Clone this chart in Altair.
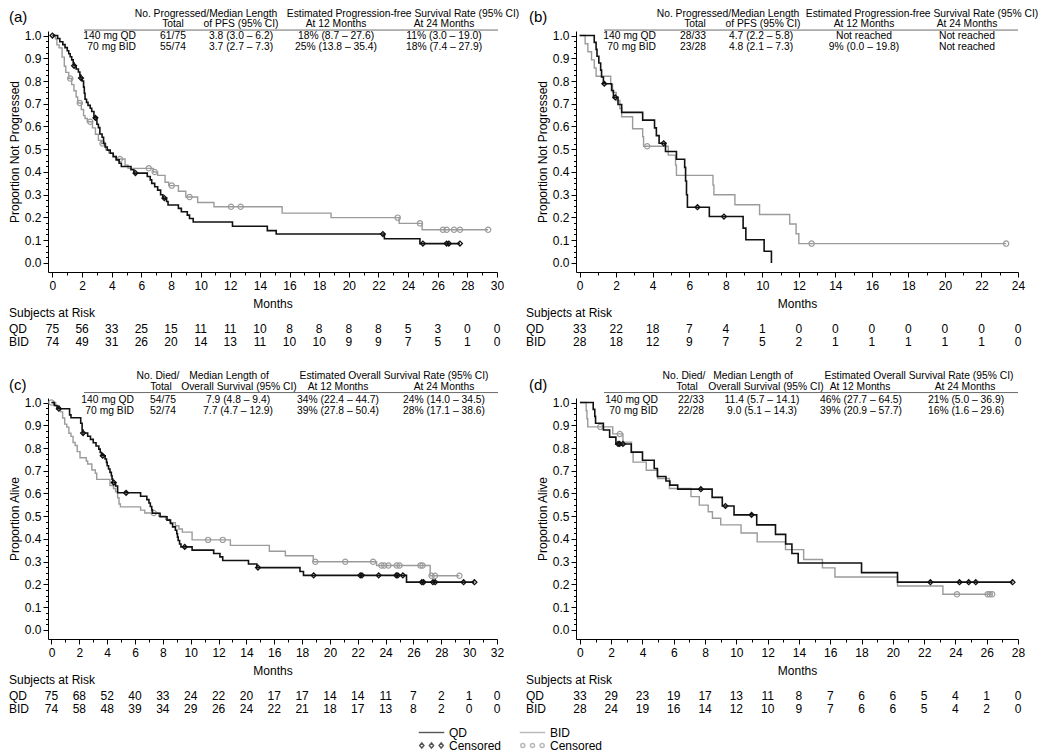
import altair as alt
import pandas as pd

FONT = "Liberation Sans"
QD_COLOR = "#111111"
BID_COLOR = "#9b9b9b"

# ---------------- data: Kaplan-Meier steps (time in months, proportion) ----------------
A_QD_T = [0, 0.35, 0.5, 0.7, 0.85, 1.0, 1.1, 1.2, 1.3, 1.4, 1.45, 1.6, 1.75, 1.85, 1.9, 2.0, 2.1, 2.15, 2.2, 2.3,
          2.4, 2.55, 2.65, 2.8, 3.0, 3.1, 3.2, 3.35, 3.45, 3.55, 3.7, 3.9, 4.1, 4.3, 4.5, 4.65, 5.3, 5.5, 6.4, 6.6,
          6.7, 6.9, 7.1, 7.3, 7.45, 7.7, 7.8, 8.5, 8.7, 9.1, 9.25, 9.5, 12.15, 14.5, 15.1, 22.4, 24.8]
A_QD_S = [1.0, 0.987, 0.973, 0.96, 0.947, 0.933, 0.92, 0.907, 0.893, 0.88, 0.867, 0.853, 0.84, 0.826, 0.813, 0.80,
          0.773, 0.746, 0.72, 0.706, 0.693, 0.68, 0.666, 0.638, 0.61, 0.595, 0.567, 0.553, 0.525, 0.51, 0.496, 0.482,
          0.467, 0.453, 0.438, 0.424, 0.41, 0.395, 0.38, 0.365, 0.35, 0.335, 0.32, 0.30, 0.285, 0.27, 0.255, 0.24,
          0.225, 0.21, 0.195, 0.18, 0.161, 0.142, 0.127, 0.106, 0.085]
A_QD_C = [0.0, 1.46, 1.93, 2.9, 5.6, 7.55, 22.3, 25.0, 26.6, 26.75, 27.5]
A_BID_T = [0, 0.2, 0.3, 0.45, 0.65, 0.8, 0.9, 1.1, 1.3, 1.45, 1.6, 1.7, 1.95, 2.1, 2.2, 2.35, 2.7, 2.9, 3.1, 3.3,
           3.6, 3.8, 4.1, 4.3, 4.9, 5.1, 6.8, 7.1, 7.6, 7.85, 8.5, 9.0, 9.8, 10.9, 15.5, 18.8, 23.4, 24.95]
A_BID_S = [1.0, 0.986, 0.959, 0.946, 0.905, 0.865, 0.838, 0.811, 0.784, 0.757, 0.73, 0.703, 0.675, 0.648, 0.635,
           0.621, 0.594, 0.566, 0.539, 0.525, 0.497, 0.484, 0.47, 0.457, 0.43, 0.416, 0.40, 0.385, 0.355, 0.34,
           0.315, 0.29, 0.266, 0.247, 0.219, 0.199, 0.174, 0.146]
A_BID_C = [1.2, 1.85, 2.55, 3.38, 4.55, 6.5, 6.9, 8.05, 9.25, 12.05, 12.7, 23.3, 24.8, 26.35, 26.6, 27.1, 27.5, 29.4]

B_QD_T = [0, 0.8, 0.9, 0.95, 1.05, 1.15, 1.2, 1.3, 1.75, 1.85, 2.1, 2.3, 3.45, 4.1, 4.2, 4.35, 4.7, 5.3, 5.75,
          5.8, 5.85, 5.9, 7.1, 8.95, 9.1, 10.1, 10.5]
B_QD_S = [1.0, 0.97, 0.939, 0.909, 0.879, 0.848, 0.818, 0.788, 0.758, 0.728, 0.697, 0.662, 0.628, 0.594, 0.56,
          0.526, 0.49, 0.456, 0.42, 0.36, 0.30, 0.245, 0.204, 0.153, 0.102, 0.051, 0.0]
B_QD_C = [1.35, 1.95, 4.6, 6.45, 7.9]
B_BID_T = [0, 0.3, 0.45, 0.65, 0.8, 0.9, 1.7, 1.8, 2.0, 2.2, 2.3, 2.9, 3.45, 3.5, 4.85, 5.25, 5.3, 7.3, 7.35,
           8.5, 9.85, 11.5, 11.85, 12.0]
B_BID_S = [1.0, 0.964, 0.929, 0.893, 0.857, 0.821, 0.786, 0.75, 0.714, 0.679, 0.643, 0.59, 0.555, 0.513, 0.474,
           0.43, 0.385, 0.342, 0.30, 0.256, 0.213, 0.171, 0.128, 0.085]
B_BID_C = [3.7, 12.7, 23.35]

C_QD_T = [0, 0.2, 0.4, 1.3, 1.4, 2.1, 2.2, 2.25, 2.6, 2.8, 3.0, 3.2, 3.4, 3.5, 3.6, 3.85, 3.95, 4.0, 4.1, 4.2,
          4.3, 4.35, 4.4, 4.6, 4.75, 6.4, 6.85, 7.0, 7.1, 7.2, 7.25, 7.8, 8.3, 8.55, 8.7, 8.9, 9.0, 9.05, 9.1, 9.2,
          9.3, 10.1, 11.65, 12.1, 12.3, 14.15, 14.75, 17.85, 18.1, 25.5]
C_QD_S = [1.0, 0.987, 0.973, 0.946, 0.933, 0.909, 0.88, 0.866, 0.852, 0.838, 0.823, 0.809, 0.795, 0.78, 0.766,
          0.752, 0.737, 0.722, 0.708, 0.693, 0.678, 0.663, 0.648, 0.633, 0.603, 0.588, 0.573, 0.558, 0.543, 0.528,
          0.513, 0.498, 0.483, 0.468, 0.453, 0.438, 0.423, 0.408, 0.393, 0.378, 0.365, 0.351, 0.336, 0.321, 0.305,
          0.29, 0.274, 0.257, 0.24, 0.21]
C_QD_C = [0.53, 2.27, 3.68, 4.47, 5.36, 9.57, 14.83, 18.83, 22.18, 22.3, 23.5, 24.76, 24.88, 25.24, 26.6, 26.72,
          27.4, 27.56, 29.6, 30.38]
C_BID_T = [0, 0.3, 0.55, 0.65, 0.8, 0.95, 1.1, 1.25, 1.4, 1.55, 1.7, 1.85, 2.05, 2.5, 2.6, 2.9, 3.15, 3.25, 4.2,
           4.45, 4.6, 4.75, 4.85, 4.95, 6.4, 6.7, 7.7, 8.2, 8.5, 8.9, 9.15, 9.4, 10.1, 12.85, 15.65, 16.8, 18.8,
           23.35, 27.2]
C_BID_S = [1.0, 0.986, 0.973, 0.959, 0.932, 0.905, 0.892, 0.865, 0.851, 0.824, 0.811, 0.784, 0.757, 0.743, 0.73,
           0.703, 0.689, 0.662, 0.635, 0.622, 0.608, 0.581, 0.554, 0.541, 0.527, 0.514, 0.5, 0.486, 0.472, 0.458,
           0.444, 0.43, 0.396, 0.372, 0.346, 0.326, 0.30, 0.283, 0.238]
C_BID_C = [0.0, 7.35, 11.25, 12.3, 18.95, 21.1, 23.1, 23.7, 23.9, 24.2, 24.8, 25.0, 26.5, 26.65, 27.3, 27.55, 29.3]

D_QD_T = [0, 0.85, 0.95, 1.0, 1.5, 1.9, 2.3, 3.28, 4.0, 4.75, 4.95, 5.5, 5.75, 6.25, 8.45, 9.1, 9.85, 11.3, 12.5,
          13.15, 13.55, 13.95, 18.0, 20.3]
D_QD_S = [1.0, 0.97, 0.939, 0.909, 0.879, 0.848, 0.818, 0.782, 0.746, 0.71, 0.675, 0.655, 0.637, 0.619, 0.583,
          0.545, 0.506, 0.462, 0.42, 0.378, 0.336, 0.294, 0.252, 0.21]
D_QD_C = [2.44, 2.54, 2.75, 7.73, 9.3, 10.97, 22.4, 24.26, 24.85, 25.3, 27.65]
D_BID_T = [0, 0.4, 0.45, 0.5, 2.1, 2.75, 3.3, 3.4, 4.24, 4.98, 5.72, 7.1, 7.63, 8.2, 8.47, 9.0, 10.3, 11.33,
           13.14, 14.3, 15.5, 16.3, 20.3, 23.2]
D_BID_S = [1.0, 0.964, 0.929, 0.893, 0.862, 0.826, 0.78, 0.738, 0.702, 0.666, 0.622, 0.586, 0.549, 0.52, 0.491,
           0.462, 0.426, 0.387, 0.353, 0.31, 0.273, 0.233, 0.193, 0.157]
D_BID_C = [1.3, 2.55, 24.1, 26.06, 26.2, 26.35]

# ---------------- subjects at risk ----------------
A_RISK_QD = [75, 56, 33, 25, 15, 11, 11, 10, 8, 8, 8, 8, 5, 3, 0, 0]
A_RISK_BID = [74, 49, 31, 26, 20, 14, 13, 11, 10, 10, 9, 9, 7, 5, 1, 0]
B_RISK_QD = [33, 22, 18, 7, 4, 1, 0, 0, 0, 0, 0, 0, 0]
B_RISK_BID = [28, 18, 12, 9, 7, 5, 2, 1, 1, 1, 1, 1, 0]
C_RISK_QD = [75, 68, 52, 40, 33, 24, 22, 20, 17, 17, 14, 14, 11, 7, 2, 1, 0]
C_RISK_BID = [74, 58, 48, 39, 34, 29, 26, 24, 22, 21, 18, 17, 13, 8, 2, 0, 0]
D_RISK_QD = [33, 29, 23, 19, 17, 13, 11, 8, 7, 6, 6, 5, 4, 1, 0]
D_RISK_BID = [28, 24, 19, 16, 14, 12, 10, 9, 7, 6, 6, 5, 4, 2, 0]
RISK_LABELS = ["Subjects at Risk", "QD", "BID"]

# ---------------- header tables ----------------
ARM_LABELS = ["140 mg QD", "70 mg BID"]
HEAD_PFS_1 = ["No. Progressed/Median Length", "Estimated Progression-free Survival Rate (95% CI)"]
HEAD_PFS_2 = ["Total", "of PFS (95% CI)", "At 12 Months", "At 24 Months"]
HEAD_OS_1 = ["No. Died/", "Median Length of", "Estimated Overall Survival Rate (95% CI)"]
HEAD_OS_2 = ["Total", "Overall Survival (95% CI)", "At 12 Months", "At 24 Months"]
A_ROWS = [["61/75", "3.8 (3.0 – 6.2)", "18% (8.7 – 27.6)", "11% (3.0 – 19.0)"],
          ["55/74", "3.7 (2.7 – 7.3)", "25% (13.8 – 35.4)", "18% (7.4 – 27.9)"]]
B_ROWS = [["28/33", "4.7 (2.2 – 5.8)", "Not reached", "Not reached"],
          ["23/28", "4.8 (2.1 – 7.3)", "9% (0.0 – 19.8)", "Not reached"]]
C_ROWS = [["54/75", "7.9 (4.8 – 9.4)", "34% (22.4 – 44.7)", "24% (14.0 – 34.5)"],
          ["52/74", "7.7 (4.7 – 12.9)", "39% (27.8 – 50.4)", "28% (17.1 – 38.6)"]]
D_ROWS = [["22/33", "11.4 (5.7 – 14.1)", "46% (27.7 – 64.5)", "21% (5.0 – 36.9)"],
          ["22/28", "9.0 (5.1 – 14.3)", "39% (20.9 – 57.7)", "16% (1.6 – 29.6)"]]

# legend (column-major fill: left column QD entries, right column BID entries)
LEG_KEYS = ["QD", "QD censored", "BID", "BID censored"]
LEG_COLORS = [QD_COLOR, QD_COLOR, BID_COLOR, BID_COLOR]


def _tri(kind):
    parts = []
    for cx in (-0.76, 0.0, 0.76):
        if kind == "diamond":
            parts.append(f"M{cx-0.17:.2f},0L{cx:.2f},-0.2L{cx+0.17:.2f},0L{cx:.2f},0.2Z")
        else:
            r = 0.16
            parts.append(f"M{cx-r:.2f},0A{r},{r} 0 1,0 {cx+r:.2f},0A{r},{r} 0 1,0 {cx-r:.2f},0Z")
    return "".join(parts)


LEG_SHAPES = ["stroke", _tri("diamond"), "stroke", _tri("circle")]

# ---------------- layout ----------------
H_PLOT = 241
YDOM = (-0.04, 1.02)
YVALS = [round(i * 0.025, 3) for i in range(41)]
YMAJ = "abs(datum.value*10 - round(datum.value*10)) < 0.001"
HEAD_FS = 10.3

GEOM = {
    "a": dict(W=449, xdom=(-0.3, 30), letter="(a)", letter_dx=-39, risk_dx=-39, label_right=88,
              cols=[125, 193, 288, 396], l2=[125, 193, 288, 396], l1=[158, 355], sep=(36, 450),
              hy=[-22, -11.5, -5.5, 0.5, 11], letter_rel=-19, ytitle="Proportion Not Progressed"),
    "b": dict(W=442, xdom=(-0.2, 24), letter="(b)", letter_dx=-47, risk_dx=-50, label_right=80,
              cols=[117, 185, 288, 391], l2=[119, 187, 288, 391], l1=[152, 346], sep=(28, 442),
              hy=[-22, -11.5, -5.5, 0.5, 11], letter_rel=-19, ytitle="Proportion Not Progressed"),
    "c": dict(W=449, xdom=(-0.25, 32), letter="(c)", letter_dx=-39, risk_dx=-39, label_right=86,
              cols=[115, 190, 290, 396], l2=[113, 191, 290, 396], l1=[110, 181, 346], sep=(36, 450),
              hy=[-26.5, -16, -10, -2.5, 8.5], letter_rel=-18, ytitle="Proportion Alive"),
    "d": dict(W=442, xdom=(-0.25, 28), letter="(d)", letter_dx=-47, risk_dx=-50, label_right=82,
              cols=[115, 186, 285, 390], l2=[111, 190, 284, 389], l1=[108, 177, 343], sep=(28, 442),
              hy=[-26.5, -16, -10, -2.5, 8.5], letter_rel=-18, ytitle="Proportion Alive"),
}


def km_line(T, S, C):
    t, s = list(T), list(S)
    if C and max(C) > t[-1]:
        t.append(max(C))
        s.append(s[-1])
    return pd.DataFrame({"t": t, "s": s})


def km_censor(T, S, C):
    vals = []
    for c in C:
        k = 0
        for i, tt in enumerate(T):
            if tt <= c:
                k = i
        vals.append(S[k])
    return pd.DataFrame({"t": list(C), "s": vals})


def make_panel(g, qd, bid, risk_qd, risk_bid, head1, head2, rows, legend=False):
    W = g["W"]
    xmin, xmax = g["xdom"]
    ymin, ymax = YDOM
    mx = (xmax - xmin) / W
    my = (ymax - ymin) / H_PLOT

    def X(dx):
        return xmin + dx * mx

    def Yone(rel):
        return 1.0 - rel * my

    def Ybot(off):
        return ymin - off * my

    xt = int(round(xmax))
    xaxis = alt.Axis(values=list(range(0, xt + 1)), format="d",
                     labelExpr="datum.value % 2 == 0 ? datum.label : ''",
                     tickSize={"condition": {"test": "datum.value % 2 == 0", "value": 5}, "value": 3},
                     title="Months", titlePadding=7, labelPadding=3, labelFlush=False, labelOverlap=False,
                     grid=False, domainColor="black", tickColor="black", labelColor="black",
                     titleColor="black", labelFontSize=12, titleFontSize=12, titleFontWeight="normal",
                     labelFont=FONT, titleFont=FONT)
    yaxis = alt.Axis(values=YVALS,
                     labelExpr=YMAJ + " ? format(datum.value, '.1f') : ''",
                     tickSize={"condition": {"test": YMAJ, "value": 5}, "value": 2.5},
                     title=g["ytitle"], titlePadding=3, labelPadding=2, labelFlush=False, labelOverlap=False,
                     grid=False, domainColor="black", tickColor="black", labelColor="black",
                     titleColor="black", labelFontSize=12, titleFontSize=12, titleFontWeight="normal",
                     labelFont=FONT, titleFont=FONT)
    enc = dict(x=alt.X("t:Q", scale=alt.Scale(domain=[xmin, xmax], nice=False, zero=False), axis=xaxis),
               y=alt.Y("s:Q", scale=alt.Scale(domain=[ymin, ymax], nice=False, zero=False), axis=yaxis))

    def text_layer(df, align, size):
        return alt.Chart(df).mark_text(align=align, baseline="middle", font=FONT, fontSize=size,
                                       color="black").encode(text="txt:N", **enc)

    layers = []
    # curves
    layers.append(alt.Chart(km_line(*bid)).mark_line(interpolate="step-after", color=BID_COLOR,
                                                     strokeWidth=1.4).encode(**enc))
    layers.append(alt.Chart(km_censor(*bid)).mark_point(shape="circle", filled=False, size=28,
                                                        color=BID_COLOR, strokeWidth=1.2,
                                                        opacity=1).encode(**enc))
    layers.append(alt.Chart(km_line(*qd)).mark_line(interpolate="step-after", color=QD_COLOR,
                                                    strokeWidth=1.6).encode(**enc))
    layers.append(alt.Chart(km_censor(*qd)).mark_point(shape="diamond", filled=False, size=24,
                                                       color=QD_COLOR, strokeWidth=1.3,
                                                       opacity=1).encode(**enc))

    hy = g["hy"]
    # header line 1 / line 2
    layers.append(text_layer(pd.DataFrame({"txt": head1, "t": [X(d) for d in g["l1"]],
                                           "s": [Yone(hy[0])] * len(head1)}), "center", HEAD_FS))
    layers.append(text_layer(pd.DataFrame({"txt": head2, "t": [X(d) for d in g["l2"]],
                                           "s": [Yone(hy[1])] * len(head2)}), "center", HEAD_FS))
    # separator
    layers.append(alt.Chart(pd.DataFrame({"t": [X(g["sep"][0])], "t2": [X(g["sep"][1])],
                                          "s": [Yone(hy[2])]})).mark_rule(color="#444444", strokeWidth=0.8)
                  .encode(x2="t2:Q", **enc))
    # arm labels and values
    layers.append(text_layer(pd.DataFrame({"txt": ARM_LABELS, "t": [X(g["label_right"])] * 2,
                                           "s": [Yone(hy[3]), Yone(hy[4])]}), "right", HEAD_FS))
    vals = []
    for i, row in enumerate(rows):
        for j, v in enumerate(row):
            vals.append({"txt": v, "t": X(g["cols"][j]), "s": Yone(hy[3 + i])})
    layers.append(text_layer(pd.DataFrame(vals), "center", HEAD_FS))

    # panel letter
    layers.append(text_layer(pd.DataFrame({"txt": [g["letter"]], "t": [X(g["letter_dx"])],
                                           "s": [Yone(g["letter_rel"])]}), "left", 15))

    # risk table
    ticks = list(range(0, xt + 1, 2))
    rk = []
    for tk, v in zip(ticks, risk_qd):
        rk.append({"txt": str(v), "t": tk, "s": Ybot(57)})
    for tk, v in zip(ticks, risk_bid):
        rk.append({"txt": str(v), "t": tk, "s": Ybot(70)})
    layers.append(text_layer(pd.DataFrame(rk), "center", 12))
    layers.append(text_layer(pd.DataFrame({"txt": RISK_LABELS, "t": [X(g["risk_dx"])] * 3,
                                           "s": [Ybot(41), Ybot(57), Ybot(70)]}), "left", 12))

    if legend:
        leg = alt.Legend(orient="none", legendX=370, legendY=695, columns=2, title=None,
                         labelFont=FONT, labelFontSize=12, labelColor="black", symbolSize=650,
                         symbolStrokeWidth=1.4, columnPadding=17, rowPadding=0, labelOffset=4,
                         clipHeight=13,
                         labelExpr="indexof(datum.label, 'censored') >= 0 ? 'Censored' : datum.label")
        ldf = pd.DataFrame({"key": LEG_KEYS, "t": [0.0] * 4, "s": [0.0] * 4})
        layers.append(alt.Chart(ldf).transform_filter("false").mark_point(filled=False).encode(
            color=alt.Color("key:N", scale=alt.Scale(domain=LEG_KEYS, range=LEG_COLORS), legend=leg),
            shape=alt.Shape("key:N", scale=alt.Scale(domain=LEG_KEYS, range=LEG_SHAPES), legend=leg),
            **enc))

    return alt.layer(*layers).properties(width=W, height=H_PLOT)


pa = make_panel(GEOM["a"], (A_QD_T, A_QD_S, A_QD_C), (A_BID_T, A_BID_S, A_BID_C), A_RISK_QD, A_RISK_BID,
                HEAD_PFS_1, HEAD_PFS_2, A_ROWS)
pb = make_panel(GEOM["b"], (B_QD_T, B_QD_S, B_QD_C), (B_BID_T, B_BID_S, B_BID_C), B_RISK_QD, B_RISK_BID,
                HEAD_PFS_1, HEAD_PFS_2, B_ROWS)
pc = make_panel(GEOM["c"], (C_QD_T, C_QD_S, C_QD_C), (C_BID_T, C_BID_S, C_BID_C), C_RISK_QD, C_RISK_BID,
                HEAD_OS_1, HEAD_OS_2, C_ROWS, legend=True)
pdd = make_panel(GEOM["d"], (D_QD_T, D_QD_S, D_QD_C), (D_BID_T, D_BID_S, D_BID_C), D_RISK_QD, D_RISK_BID,
                 HEAD_OS_1, HEAD_OS_2, D_ROWS)

chart = alt.concat(pa, pb, pc, pdd, columns=2, spacing={"row": 126, "column": 79}, bounds="flush").properties(
    padding=0
).configure(font=FONT).configure_view(stroke=None)

chart.save("out.html", embed_options={"renderer": "svg", "actions": False})
